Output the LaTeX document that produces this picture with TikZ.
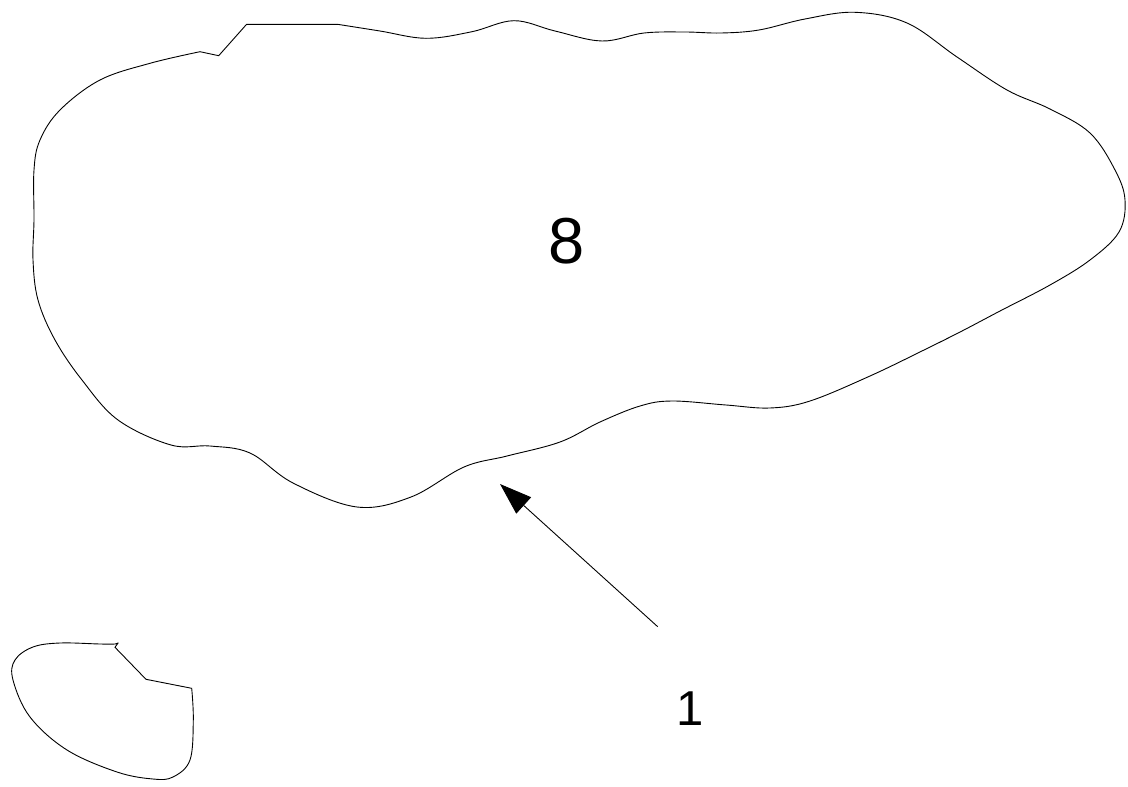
\documentclass[tikz,border=0pt]{standalone}
\usepackage{fontspec}
\setmainfont{Liberation Sans}
\usetikzlibrary{arrows.meta}
\begin{document}
\begin{tikzpicture}[x=1pt,y=-1pt,
  outline/.style={draw=black,line width=0.9pt,line join=miter},
  pointer/.style={draw=black,line width=0.9pt,-{Triangle[length=32pt,width=22pt]}},
  biglabel/.style={font=\fontsize{65}{70}\selectfont,anchor=base,inner sep=0pt},
  smalllabel/.style={font=\fontsize{49}{54}\selectfont,anchor=base,inner sep=0pt}]
\useasboundingbox (0,0) rectangle (1128,787);
% large region
\draw[outline] (200,51.7) -- (218.7,55.7) -- (246.6,24.3) -- (337.5,24.3)
  -- plot[smooth,tension=0.6] coordinates {(337.5,24.3) (380,31) (426,38.3) (472,31.7) (514,20.7) (555,31) (602,41) (644,33) (685,32) (721,33) (759,30) (805,19) (855,12.3) (907,23) (957,57) (1007,90) (1050,109) (1090,133) (1115,170) (1125,200) (1119,232) (1090,260) (1050,285) (1000,311) (962,331) (924,350) (870,376) (810,401) (770,408) (726,405) (672,401) (640,406) (600,422) (560,442) (507,456) (464,467) (411,497) (357,507) (293,483) (250,453) (210,446) (171,445) (118,420) (82,380) (55,340) (38,300) (33,260) (34,220) (34,170) (40,140) (60,110) (100,80) (150,63.3) (200,51.7)} -- cycle;
% small region
\draw[outline] (118.3,642.7) -- (115,647.3) -- (146,679.3) -- (191.7,688.3)
  -- plot[smooth,tension=0.6] coordinates {(191.7,688.3) (193.3,720) (190,760) (173,777) (153,779) (117,772) (67,750) (30,717) (13,680) (15,660) (33,647) (60,643) (100,644) (115,644) (118.3,642.7)} -- cycle;
% labels
\node[biglabel] (n8) at (566.5,263.3) {8};
\node[smalllabel] (n1) at (690,725) {1};
% arrow
\coordinate (atail) at (657.7,626.7);
\coordinate (ahead) at (500,484);
\draw[pointer] (atail) -- (ahead);
\end{tikzpicture}
\end{document}
